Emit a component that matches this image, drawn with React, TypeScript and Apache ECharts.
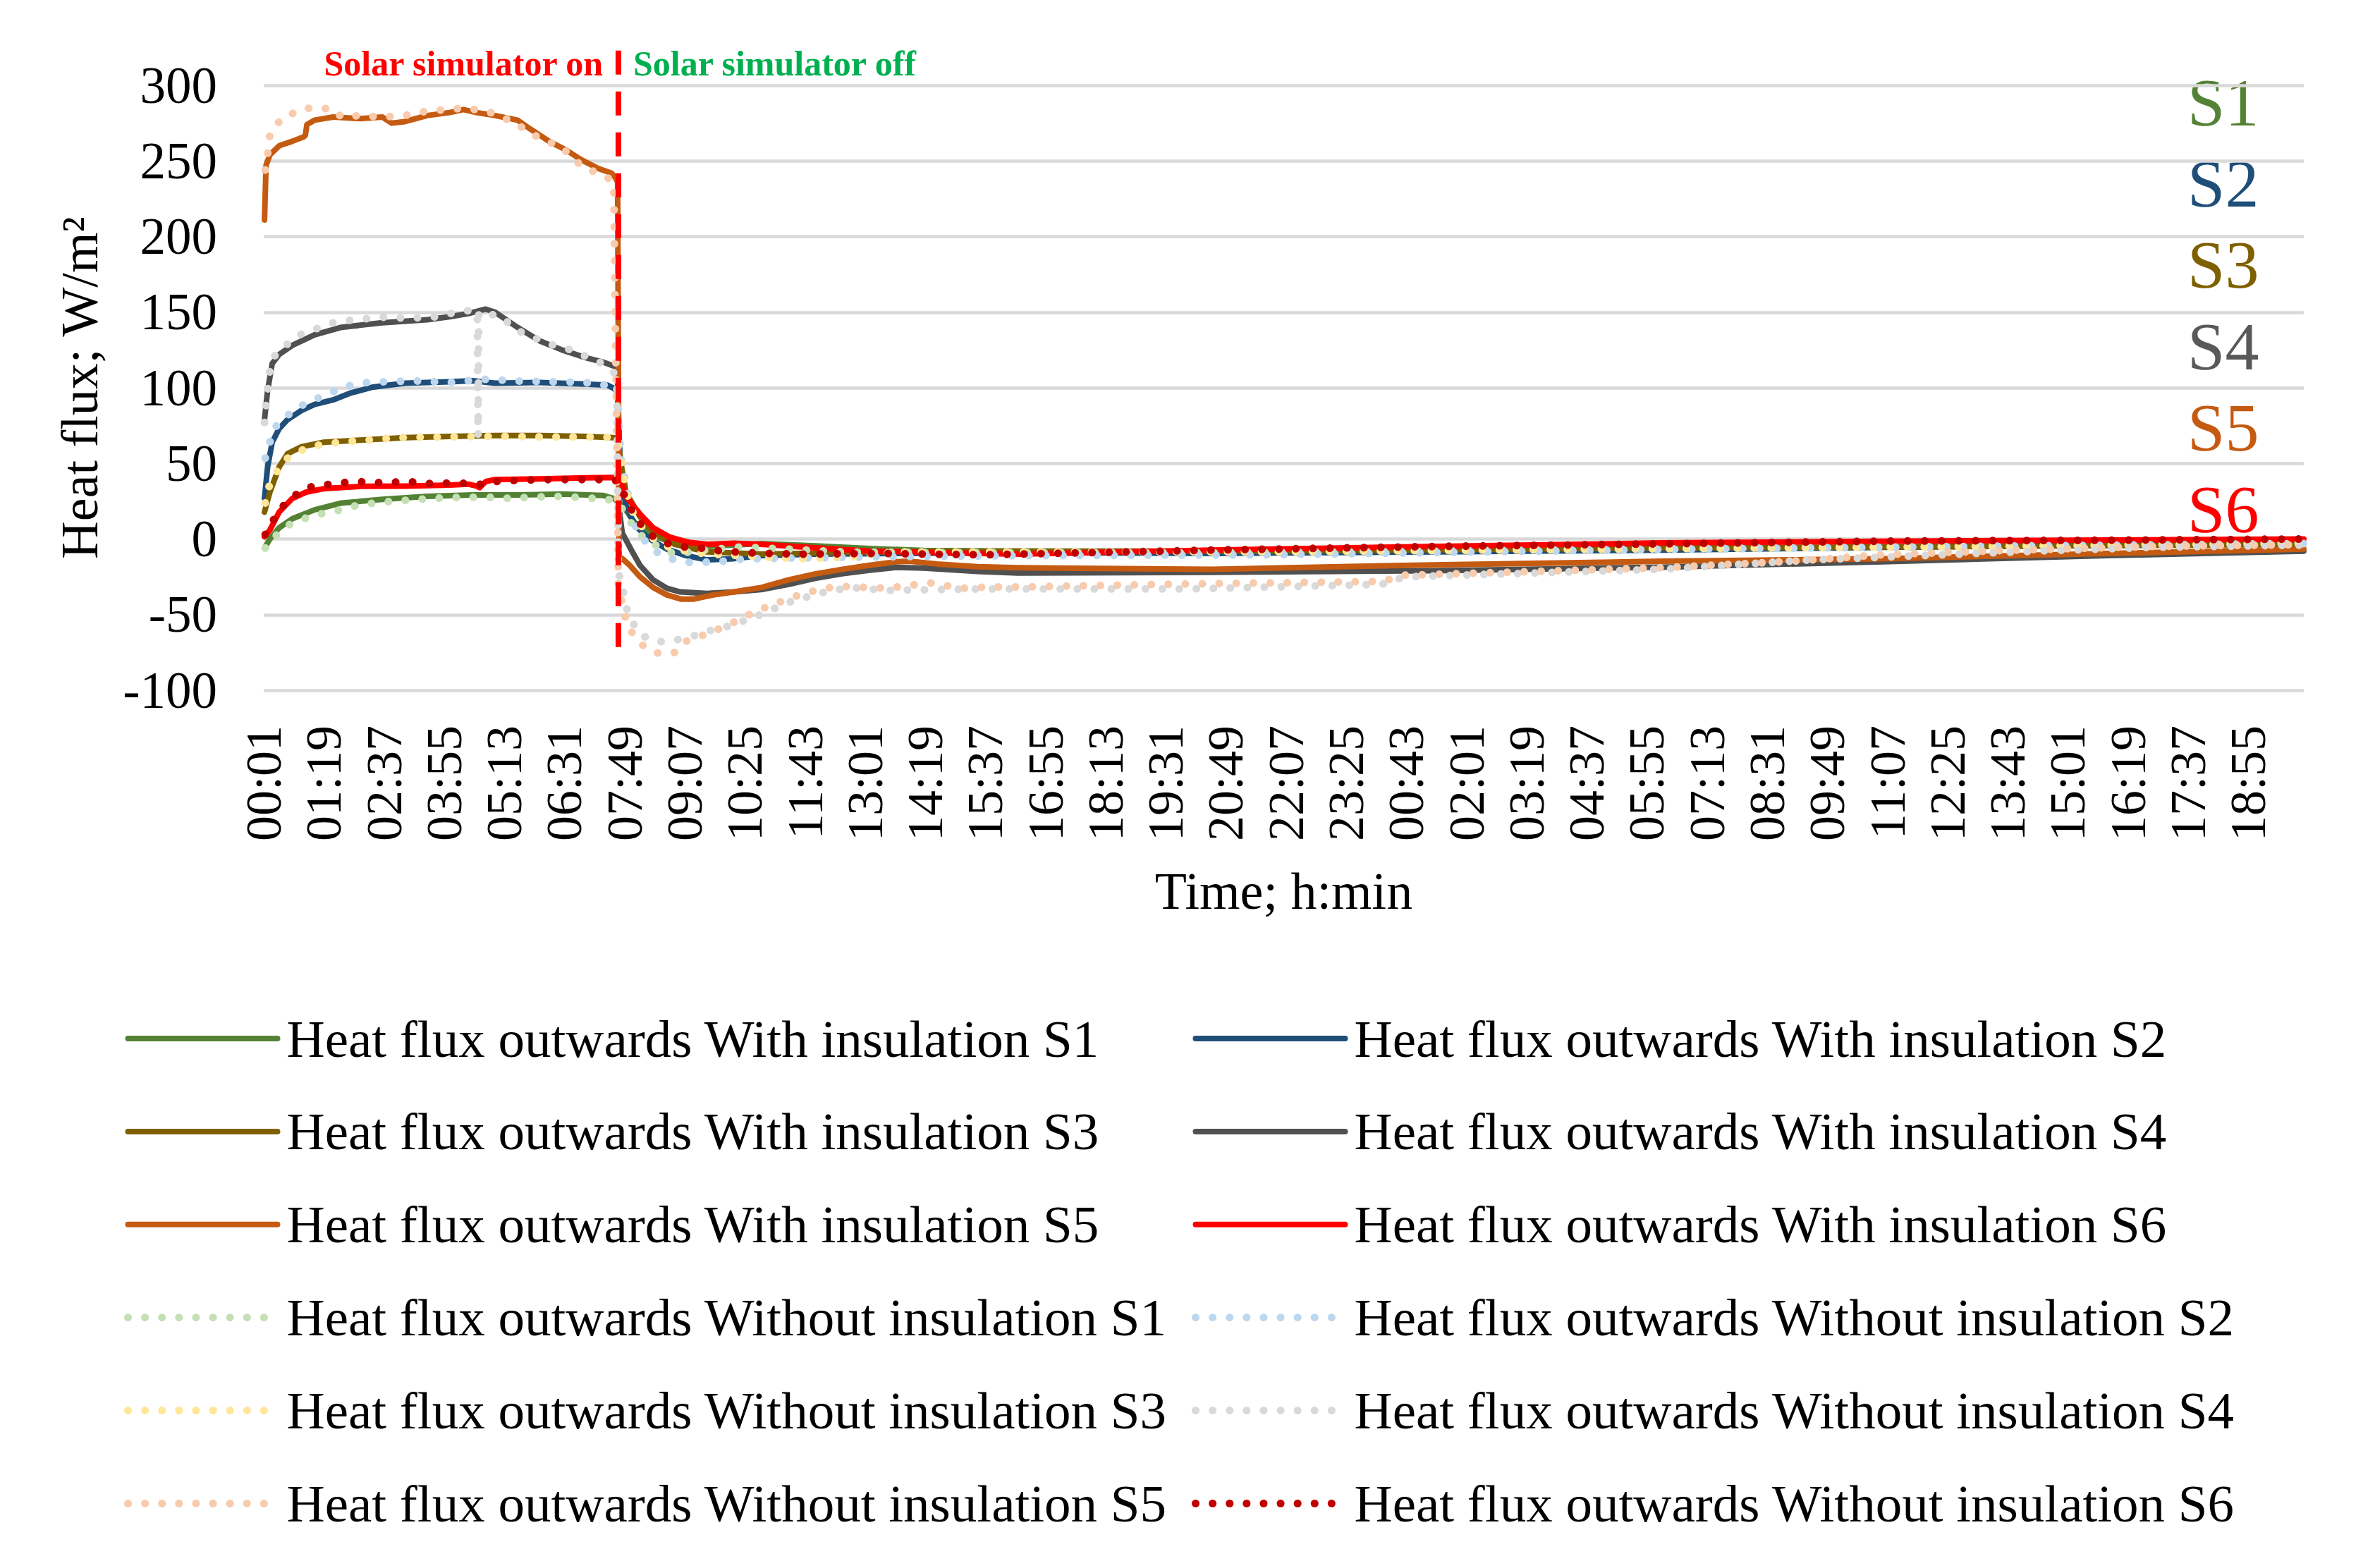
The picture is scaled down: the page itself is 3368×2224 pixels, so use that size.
import React, { useEffect, useRef } from "react";
import * as echarts from "echarts";

// ---------- DATA ----------
// x = minutes since the first sample (00:01), y = heat flux in W/m2
const tickLabels = [
  "00:01", "01:19", "02:37", "03:55", "05:13", "06:31", "07:49", "09:07", "10:25", "11:43",
  "13:01", "14:19", "15:37", "16:55", "18:13", "19:31", "20:49", "22:07", "23:25", "00:43",
  "02:01", "03:19", "04:37", "05:55", "07:13", "08:31", "09:49", "11:07", "12:25", "13:43",
  "15:01", "16:19", "17:37", "18:55",
];
const TICK_STEP = 78; // minutes between labelled ticks
const X_MAX = 2646; // last sample, minutes
const SWITCH_MINUTE = 460; // solar simulator switched off
const SWITCH_LINE: [number, number][] = [[SWITCH_MINUTE, 323], [SWITCH_MINUTE, -73]];

const withS1: [number, number][] = [[1,-6],[8,0],[20,7.4],[37,13.4],[66,19.3],[101,23.8],[154,26.2],[212,28.2],[271,29.1],[329,29.1],[387,29.7],[440,28.8],[454,26.8],[459,25],[467,21],[481,11],[505,2.3],[533,-3],[575,-4.9],[646,-3],[716,-4.5],[786,-6.3],[856,-7.6],[978,-8],[1300,-8.5],[1800,-6.5],[2200,-5],[2646,-3]];
const withS2: [number, number][] = [[1,27],[5,47.6],[11,64],[20,73],[31,79],[49,85],[66,89],[90,92],[113,96.6],[142,100.5],[183,103],[241,104],[271,104.7],[300,103],[358,103.5],[417,102.5],[446,101.7],[454,99.6],[459,97],[463,40],[470,22],[481,9.3],[499,0.5],[523,-6.7],[548,-11],[575,-13.8],[610,-13],[646,-11],[716,-10],[855,-9.4],[978,-9],[1230,-9.5],[1522,-8.5],[1814,-7.3],[2100,-5.5],[2400,-4],[2646,-2.9]];
const withS3: [number, number][] = [[1,17.8],[8,31],[20,47.6],[31,56.5],[49,61],[78,64],[125,65.4],[183,67],[241,67.8],[300,68.4],[358,68.4],[417,67.8],[454,67],[459,66],[465,45],[470,30.8],[488,14.7],[505,4.9],[533,-3.5],[575,-8.5],[646,-10],[800,-8.5],[978,-8],[1300,-8],[1800,-6],[2200,-5],[2646,-3.5]];
const withS4: [number, number][] = [[1,79],[5,98],[11,116],[20,122],[37,128],[66,135],[101,140],[154,143],[212,145],[241,147],[265,149],[288,152],[300,150],[329,140],[358,131],[387,125],[417,120],[440,117],[456,114],[459,110],[461,20],[465,4],[478,-8.4],[488,-17.4],[505,-27],[523,-32.6],[540,-35],[575,-36],[610,-35],[645,-33.5],[681,-30],[715,-26],[750,-23],[786,-20.6],[821,-18.8],[856,-19.2],[926,-21.4],[978,-22.5],[1230,-22],[1522,-21],[1814,-18.6],[2100,-15],[2391,-11],[2646,-8]];
const withS5: [number, number][] = [[1,211],[3,247],[8,254],[20,260],[37,263],[52,266],[54,267],[56,274],[66,277],[90,279],[125,278],[154,279],[166,275],[183,276],[212,280],[241,282],[259,284],[276,282],[300,280],[329,277],[346,271],[370,263],[393,257],[411,251],[434,245],[451,242],[456,239],[459,236],[461,-12],[465,-13],[474,-17],[488,-25],[505,-32],[523,-37],[541,-39.7],[558,-39.7],[583,-37],[610,-35],[646,-32],[681,-27],[716,-23],[751,-20],[786,-17.4],[821,-15],[838,-14.7],[873,-16.5],[926,-18.3],[978,-19],[1230,-20],[1464,-17.6],[1814,-14.7],[2100,-13],[2391,-9.6],[2646,-6.7]];
const withS6: [number, number][] = [[1,1.5],[8,6],[20,17.8],[37,26.8],[55,31],[78,33.3],[125,34.8],[183,35],[241,35.7],[265,36.3],[276,35],[280,34],[288,38],[300,39.3],[358,39.8],[417,40.4],[454,40.7],[459,40.5],[466,35],[470,28],[488,16.5],[505,7.5],[526,1.4],[551,-2.2],[575,-3.5],[610,-2.8],[645,-3.5],[715,-5.8],[786,-8],[856,-8.8],[978,-10],[1230,-7.3],[1522,-4.9],[1814,-2.6],[2100,-1.5],[2391,-0.7],[2646,0]];

const withoutS1: [number, number][] = [[2,-6],[14,1.5],[31,9],[52,13.4],[72,16.4],[93,18.4],[113,21.4],[134,23.2],[154,24.4],[177,25.3],[201,26.2],[221,26.8],[241,27.4],[288,27.7],[311,26.8],[352,27.7],[376,28.2],[417,27.4],[440,26.2],[455,25.8],[468,18.3],[479,8.5],[495,-0.5],[514,-5.6],[533,-10],[560,-8],[618,-5.3],[680,-6.7],[750,-8.5],[860,-9],[980,-9],[1300,-9],[1800,-6.5],[2200,-5],[2646,-3]];
const withoutS2: [number, number][] = [[2,53.5],[8,64],[15,74],[36,84],[55,90],[73,93.7],[93,98],[113,101.7],[134,103.5],[155,104],[198,104.5],[241,103.5],[285,105.6],[329,104.5],[373,104],[414,103.5],[434,102.5],[452,101],[458,99],[463,55],[467,43.3],[472,30.8],[481,9.3],[493,-0.5],[507,-8],[527,-13],[548,-15.4],[570,-15.4],[590,-15],[613,-13.6],[636,-13],[700,-12.5],[850,-11.5],[980,-11],[1300,-10.5],[1800,-7],[2200,-5],[2646,-3]];
const withoutS3: [number, number][] = [[2,23.8],[8,37],[17,44.6],[31,53.5],[46,58],[64,61.5],[84,63],[107,64.5],[151,66],[171,67],[236,67.5],[303,68],[367,67.5],[434,67.5],[456,67],[462,58.4],[465,46.8],[469,35.8],[474,24.5],[481,14.7],[495,4.9],[512,-2.8],[533,-6.7],[555,-8.5],[576,-10],[620,-11],[663,-12.4],[700,-13],[760,-12],[800,-9.4],[830,-8.5],[978,-8.5],[1300,-8.5],[1800,-6.5],[2200,-5],[2646,-3]];
const withoutS4: [number, number][] = [[1,77],[3,89],[8,111],[15,122],[31,129],[46,135],[64,138],[81,142],[101,144],[119,145],[154,146.6],[189,146],[227,147],[241,149],[265,151],[276,150],[277,150],[278,68],[279,150],[288,149],[306,147.6],[329,138],[346,134],[376,128],[393,126],[411,122],[428,119],[446,114],[454,110],[458,100],[460,-22],[466,-33.5],[470,-45],[479,-55.8],[491,-64],[512,-68],[533,-67],[554,-64.7],[575,-61],[600,-58],[640,-51],[680,-42],[720,-36],[760,-32],[808,-34],[860,-33.5],[940,-33],[980,-33],[1200,-33],[1450,-30],[1480,-25],[1814,-20],[2000,-14],[2100,-12],[2300,-8],[2450,-5.5],[2646,-4]];
const withoutS5: [number, number][] = [[2,244],[5,254],[8,268],[23,278],[40,282],[55,285],[69,284],[87,285],[101,279],[125,280],[154,279],[183,280],[212,283],[241,284],[259,285],[288,283],[306,280],[329,274],[358,265],[387,259],[402,251],[417,245],[434,242],[446,239],[454,235],[460,-31],[470,-54],[480,-64],[495,-72],[514,-76],[533,-75],[546,-68],[560,-65],[581,-62],[596,-58],[615,-54],[633,-49],[652,-45],[670,-41.5],[689,-38],[708,-35],[728,-32.6],[747,-31.3],[808,-32.6],[864,-29],[905,-32.6],[941,-31.7],[980,-31.7],[1160,-30],[1452,-28],[1476,-24],[1814,-19],[1983,-14.7],[2100,-10.4],[2275,-7.3],[2450,-4.9],[2646,-3.7]];
const withoutS6: [number, number][] = [[2,3],[11,11.3],[23,20.8],[40,28.8],[58,34.2],[78,35.7],[101,37.2],[122,38],[145,37.2],[189,38],[209,36.6],[253,37.2],[276,35.7],[300,38],[323,38.7],[367,39.3],[454,39.3],[459,38],[463,36],[467,29.8],[477,19.2],[489,9.7],[505,1.7],[525,-3.1],[546,-5.3],[570,-6.2],[595,-8.1],[620,-8.8],[640,-9.4],[700,-10],[800,-9.5],[870,-10.1],[939,-10.4],[1230,-7.3],[1522,-4.9],[1814,-3.2],[2100,-1.4],[2391,-0.8],[2646,0]];

const sensorLabels = ["S1", "S2", "S3", "S4", "S5", "S6"];

// ---------- STYLE ----------
const FONT = "'Liberation Serif', 'Times New Roman', serif";
const withColors = ["#548235", "#1F4E79", "#7F6000", "#505050", "#C55A11", "#FF0000"];
const labelColors = ["#548235", "#1F4E79", "#7F6000", "#595959", "#C55A11", "#FF0000"];
const withoutColors = ["#C5E0B4", "#BDD7EE", "#FFE699", "#D9D9D9", "#F8CBAD", "#C00000"];
const DOT_DASH = [0.1, 24];

const withData = [withS1, withS2, withS3, withS4, withS5, withS6];
const withoutData = [withoutS1, withoutS2, withoutS3, withoutS4, withoutS5, withoutS6];

type Item = { name: string; data: [number, number][]; color: string; dotted: boolean };
const items: Item[] = [
  ...withData.map((d, i) => ({ name: `Heat flux outwards With insulation ${sensorLabels[i]}`, data: d, color: withColors[i], dotted: false })),
  ...withoutData.map((d, i) => ({ name: `Heat flux outwards Without insulation ${sensorLabels[i]}`, data: d, color: withoutColors[i], dotted: true })),
];

function legendItem(it: Item) {
  return {
    name: it.name,
    itemStyle: { opacity: 0 },
    lineStyle: { width: it.dotted ? 11 : 8 },
  };
}

const leftLegend = [0, 2, 4, 6, 8, 10].map((i) => legendItem(items[i]));
const rightLegend = [1, 3, 5, 7, 9, 11].map((i) => legendItem(items[i]));

const legendBase = {
  orient: "vertical",
  top: 1428,
  itemWidth: 212,
  itemHeight: 14,
  itemGap: 51.9,
  selectedMode: false,
  textStyle: {
    fontFamily: FONT,
    fontSize: 75,
    color: "#000",
    lineHeight: 80,
    padding: [0, 0, 0, 8],
  },
};

const option: any = {
  animation: false,
  backgroundColor: "#ffffff",
  grid: { left: 374, right: 101, top: 121, bottom: 1245, containLabel: false },
  xAxis: {
    type: "value",
    min: 0,
    max: X_MAX,
    interval: TICK_STEP,
    name: "Time; h:min",
    nameLocation: "middle",
    nameGap: 248,
    nameTextStyle: { fontFamily: FONT, fontSize: 74, color: "#000" },
    axisLine: { show: false },
    axisTick: { show: false },
    splitLine: { show: false },
    axisLabel: {
      rotate: 90,
      margin: 50,
      fontFamily: FONT,
      fontSize: 72,
      color: "#000",
      showMaxLabel: false,
      formatter: (v: number) => {
        const idx = Math.round(v / TICK_STEP);
        return tickLabels[idx] ?? "";
      },
    },
  },
  yAxis: {
    type: "value",
    min: -100,
    max: 300,
    interval: 50,
    name: "Heat flux; W/m²",
    nameLocation: "middle",
    nameGap: 224,
    nameTextStyle: { fontFamily: FONT, fontSize: 74, color: "#000" },
    axisLine: { show: false },
    axisTick: { show: false },
    axisLabel: { margin: 66, fontFamily: FONT, fontSize: 73, color: "#000" },
    splitLine: { lineStyle: { color: "#D9D9D9", width: 4.5 } },
  },
  legend: [
    { ...legendBase, left: 171, data: leftLegend },
    { ...legendBase, left: 1685, data: rightLegend },
  ],
  series: [
    ...items.map((it) => ({
      name: it.name,
      type: "line",
      data: it.data,
      symbol: "none",
      smooth: false,
      color: it.color,
      lineStyle: it.dotted
        ? { color: it.color, width: 11, type: DOT_DASH, cap: "round", join: "round" }
        : { color: it.color, width: 8, cap: "round", join: "round" },
      z: it.dotted ? 3 : 2,
    })),
    {
      name: "switch",
      type: "line",
      data: SWITCH_LINE,
      symbol: "none",
      clip: false,
      silent: true,
      lineStyle: { color: "#FF0000", width: 8, type: [34, 24] },
      z: 5,
    },
  ],
  graphic: [
    {
      type: "text",
      x: 855,
      y: 90,
      style: {
        text: "Solar simulator on",
        fill: "#FF0000",
        fontFamily: FONT,
        fontSize: 50,
        fontWeight: "bold",
        align: "right",
        verticalAlign: "middle",
      },
    },
    {
      type: "text",
      x: 898,
      y: 90,
      style: {
        text: "Solar simulator off",
        fill: "#00B050",
        fontFamily: FONT,
        fontSize: 50,
        fontWeight: "bold",
        align: "left",
        verticalAlign: "middle",
      },
    },
    ...sensorLabels.map((s, i) => ({
      type: "text",
      x: 3102,
      y: 145 + i * 115.4,
      style: {
        text: s,
        fill: labelColors[i],
        fontFamily: FONT,
        fontSize: 96,
        align: "left",
        verticalAlign: "middle",
      },
    })),
  ],
};

export default function App() {
  const ref = useRef<HTMLDivElement>(null);
  useEffect(() => {
    if (!ref.current) return;
    const chart = echarts.init(ref.current, null, { renderer: "svg" });
    chart.setOption(option);
    return () => chart.dispose();
  }, []);
  return (
    <div
      ref={ref}
      style={{ position: "fixed", left: 0, top: 0, width: 3368, height: 2224, background: "#fff" }}
    />
  );
}
